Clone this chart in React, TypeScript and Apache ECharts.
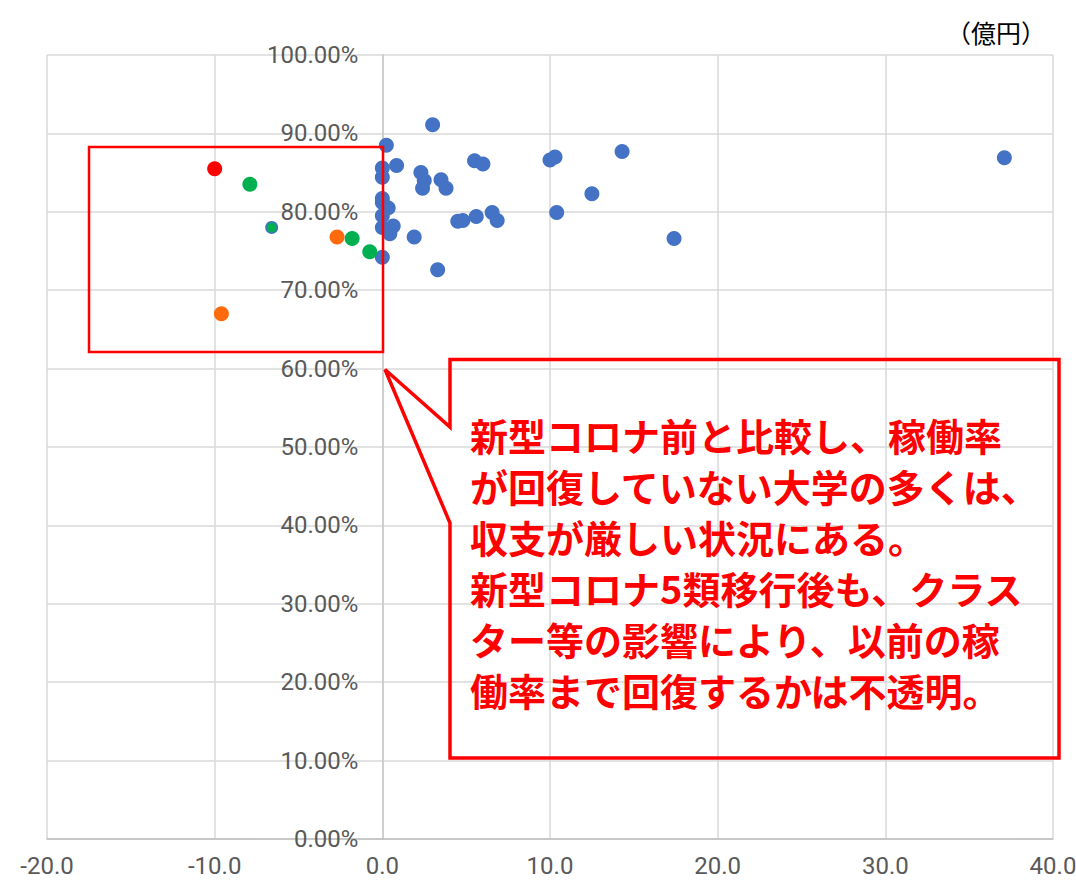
import React, { useEffect, useRef } from "react";
import * as echarts from "echarts";

// 収支（億円） vs 稼働率（%）
const xTicks = { min: -20, max: 40, interval: 10 };
const yTicks = { min: 0, max: 100, interval: 10 };

// 稼働率が回復している大学
const blueX = [0.24, 0.0, 0.0, 0.85, 2.3, 2.5, 2.4, 3.5, 3.8, 3.0, 5.5, 6.0, 0.0, 0.0, 0.35, 0.0, 0.0, 0.65, 0.45, 1.9, 0.0, 3.3, 4.5, 4.8, 5.6, 6.55, 6.85, 10.0, 10.3, 14.3, 12.5, 10.4, 17.4, 37.1];
const blueY = [88.5, 85.6, 84.4, 85.9, 85.0, 84.0, 83.0, 84.1, 83.0, 91.1, 86.5, 86.1, 81.7, 81.2, 80.5, 79.5, 78.0, 78.2, 77.2, 76.8, 74.2, 72.6, 78.8, 78.9, 79.4, 79.9, 78.9, 86.6, 87.0, 87.7, 82.3, 79.9, 76.6, 86.9];
const blueSmallX = [-6.6];
const blueSmallY = [78.0];

// 稼働率が回復していない大学
const orangeX = [-2.7, -9.6];
const orangeY = [76.8, 67.0];
const greenX = [-7.9, -1.8, -0.75];
const greenY = [83.5, 76.6, 74.9];
const greenSmallX = [-6.6];
const greenSmallY = [78.0];
const redX = [-10.0];
const redY = [85.5];

const unitLabel = "（億円）";
const calloutLines = [
  "新型コロナ前と比較し、稼働率",
  "が回復していない大学の多くは、",
  "収支が厳しい状況にある。",
  "新型コロナ5類移行後も、クラス",
  "ター等の影響により、以前の稼",
  "働率まで回復するかは不透明。",
];

const zip = (xs: number[], ys: number[]) => xs.map((x, i) => [x, ys[i]]);

// plot area in page pixels
const GRID_LEFT = 47;
const GRID_RIGHT = 23;
const GRID_TOP = 55;
const GRID_BOTTOM = 44;
const PAGE_W = 1076;

export default function App() {
  const ref = useRef<HTMLDivElement>(null);

  useEffect(() => {
    if (!ref.current) return;
    const chart = echarts.init(ref.current, null, { renderer: "svg" });
    const labelFont = { fontFamily: "Roboto", fontSize: 24, color: "#595959" };
    const grid = "#D9D9D9";
    // the value axis sits on x = 0
    const plotW = PAGE_W - GRID_LEFT - GRID_RIGHT;
    const zeroShift = (plotW * (0 - xTicks.min)) / (xTicks.max - xTicks.min);

    chart.setOption({
      animation: false,
      grid: {
        left: GRID_LEFT,
        right: GRID_RIGHT,
        top: GRID_TOP,
        bottom: GRID_BOTTOM,
        containLabel: false,
        outerBoundsMode: "none",
      },
      xAxis: {
        type: "value",
        min: xTicks.min,
        max: xTicks.max,
        interval: xTicks.interval,
        axisLine: { show: true, onZero: true, lineStyle: { color: "#BFBFBF", width: 1.5 } },
        axisTick: { show: false },
        axisLabel: { ...labelFont, margin: 15, formatter: (v: number) => v.toFixed(1) },
        splitLine: { show: true, lineStyle: { color: grid, width: 1.5 } },
      },
      yAxis: {
        type: "value",
        min: yTicks.min,
        max: yTicks.max,
        interval: yTicks.interval,
        offset: -zeroShift,
        axisLine: { show: true, onZero: false, lineStyle: { color: "#C8C8C8", width: 1.5 } },
        axisTick: { show: false },
        axisLabel: { ...labelFont, margin: 24, formatter: (v: number) => v.toFixed(2) + "%" },
        splitLine: { show: true, lineStyle: { color: grid, width: 1.5 } },
      },
      series: [
        {
          type: "scatter",
          symbolSize: 15,
          itemStyle: { color: "#4472C4", opacity: 1 },
          data: zip(blueX, blueY),
        },
        {
          type: "scatter",
          symbolSize: 13,
          itemStyle: { color: "#4472C4", opacity: 1 },
          data: zip(blueSmallX, blueSmallY),
        },
        {
          type: "scatter",
          symbolSize: 15,
          itemStyle: { color: "#FF6A0D", opacity: 1 },
          data: zip(orangeX, orangeY),
        },
        {
          type: "scatter",
          symbolSize: 15,
          itemStyle: { color: "#00B050", opacity: 1 },
          data: zip(greenX, greenY),
        },
        {
          type: "scatter",
          symbolSize: 10,
          itemStyle: { color: "#00B050", opacity: 1 },
          data: zip(greenSmallX, greenSmallY),
        },
        {
          type: "scatter",
          symbolSize: 15,
          itemStyle: { color: "#FF0000", opacity: 1 },
          data: zip(redX, redY),
        },
      ],
      graphic: [
        {
          type: "text",
          x: 1046,
          y: 32,
          style: {
            text: unitLabel,
            fontFamily: "Noto Sans CJK JP",
            fontSize: 25,
            fill: "#000000",
            align: "right",
            verticalAlign: "middle",
          },
        },
        {
          type: "rect",
          shape: { x: 89, y: 147, width: 294, height: 205 },
          style: { fill: "none", stroke: "#FF0000", lineWidth: 2.5 },
          z: 100,
        },
        {
          type: "polygon",
          shape: {
            points: [
              [450, 359.5],
              [1059, 359.5],
              [1059, 758],
              [450, 758],
              [450, 523],
              [385, 369.5],
              [450, 427],
            ],
          },
          style: { fill: "none", stroke: "#FF0000", lineWidth: 3.5, lineJoin: "miter" },
          z: 100,
        },
        {
          type: "text",
          x: 470,
          y: 409,
          z: 101,
          style: {
            text: calloutLines.join("\n"),
            fontFamily: "Noto Sans CJK JP",
            fontWeight: "bold",
            fontSize: 38,
            lineHeight: 51,
            fill: "#FF0000",
            align: "left",
            verticalAlign: "top",
          },
        },
      ],
    });

    return () => chart.dispose();
  }, []);

  return (
    <div
      ref={ref}
      style={{ position: "absolute", left: 0, top: 0, width: PAGE_W, height: 883, background: "#FFFFFF" }}
    />
  );
}
